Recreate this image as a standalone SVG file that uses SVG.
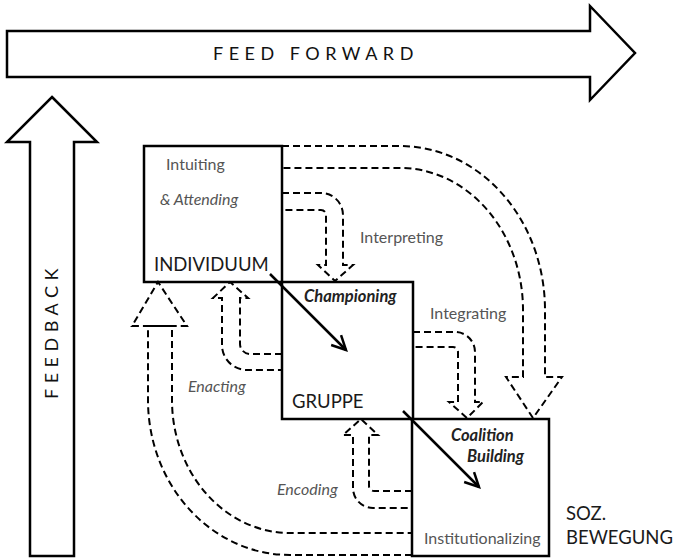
<svg xmlns="http://www.w3.org/2000/svg" width="677" height="560" viewBox="0 0 677 560">
<style>
.big{fill:#fff;stroke:#000;stroke-width:2.5}
.box{fill:#fff;stroke:#000;stroke-width:2.5}
.dash{fill:none;stroke:#000;stroke-width:2;stroke-dasharray:7,4}
.sol{stroke:#000;stroke-width:2.5;fill:none}
text{font-family:Lato,"Open Sans","Liberation Sans",sans-serif}
.lbl{font-size:16px;fill:#555}
.it{font-style:italic}
.bi{font-style:italic;font-weight:bold;fill:#222;font-size:16.5px}
.cap{font-size:18.5px;fill:#1a1a1a}
.sp{font-size:18px;fill:#111;letter-spacing:5.5px}
</style>
<defs>
<marker id="ah" markerUnits="userSpaceOnUse" markerWidth="20" markerHeight="20" viewBox="0 0 20 20" refX="17" refY="10" orient="auto">
<path d="M3,3 L17,10 L3,17" fill="none" stroke="#000" stroke-width="2.5"/>
</marker>
</defs>
<g id="feedforward">
<polygon class="big" points="7,31 590,31 590,6 635,53 590,100 590,77 7,77"/>
<text class="sp" x="213" y="60">FEED FORWARD</text>
</g>
<g id="feedback">
<polygon class="big" points="52,97 97,142 74,142 74,556 30,556 30,142 7,142"/>
<text class="sp" transform="translate(58,399) rotate(-90)" x="0" y="0">FEEDBACK</text>
</g>
<g id="individuum">
<rect class="box" x="144" y="146" width="138" height="136"/>
<text class="lbl" x="166" y="170">Intuiting</text>
<text class="lbl it" x="160" y="205">&amp; Attending</text>
<text class="cap" x="154" y="271">INDIVIDUUM</text>
</g>
<g id="gruppe">
<rect class="box" x="282" y="282" width="131" height="137"/>
<text class="cap" x="292" y="408">GRUPPE</text>
</g>
<g id="bewegung">
<rect class="box" x="412" y="419" width="137" height="137"/>
<text class="lbl" x="424" y="544">Institutionalizing</text>
</g>
<g id="connectors">
<path class="dash" d="M282,193 H321 A22,22 0 0 1 343,215 V265 H353 L335,281 L318,265 H326 V215 A5,5 0 0 0 321,210 H282"/>
<path class="dash" d="M413,332 H455 A20,20 0 0 1 475,352 V402 H483 L467,418 L449,402 H458 V352 A5,5 0 0 0 453,347 H413"/>
<path class="dash" d="M282,146 H400 A145,164 0 0 1 545,310 V377 H562 L533,418 L506,377 H523 V310 A123,142 0 0 0 400,168 H282"/>
<path class="dash" d="M282,354 H250 A10,10 0 0 1 240,344 V298 H248 L230,282 L213,298 H222 V345 A25,25 0 0 0 247,370 H282"/>
<path class="dash" d="M412,555 H290 A142,155 0 0 1 148,400 V326 H187 L158,282 L132,326 H172 V400 A118,133 0 0 0 290,533 H412"/>
<path class="dash" d="M412,491 H374 A5,5 0 0 1 369,486 V435 H378 L361,419 L343,435 H353 V488 A20,20 0 0 0 373,508 H412"/>
<line class="sol" x1="270" y1="274" x2="346" y2="350" marker-end="url(#ah)"/>
<line class="sol" x1="403" y1="411" x2="479" y2="487" marker-end="url(#ah)"/>
<text class="lbl" x="360" y="243">Interpreting</text>
<text class="bi" x="304" y="302">Championing</text>
<text class="lbl" x="430" y="319">Integrating</text>
<text class="lbl it" x="188" y="392">Enacting</text>
<text class="bi" x="451" y="441">Coalition</text>
<text class="bi" x="467" y="462">Building</text>
<text class="lbl it" x="277" y="495">Encoding</text>
</g>
<g id="soz">
<text class="cap" x="566" y="520">SOZ.</text>
<text class="cap" x="566" y="544">BEWEGUNG</text>
</g>
</svg>
